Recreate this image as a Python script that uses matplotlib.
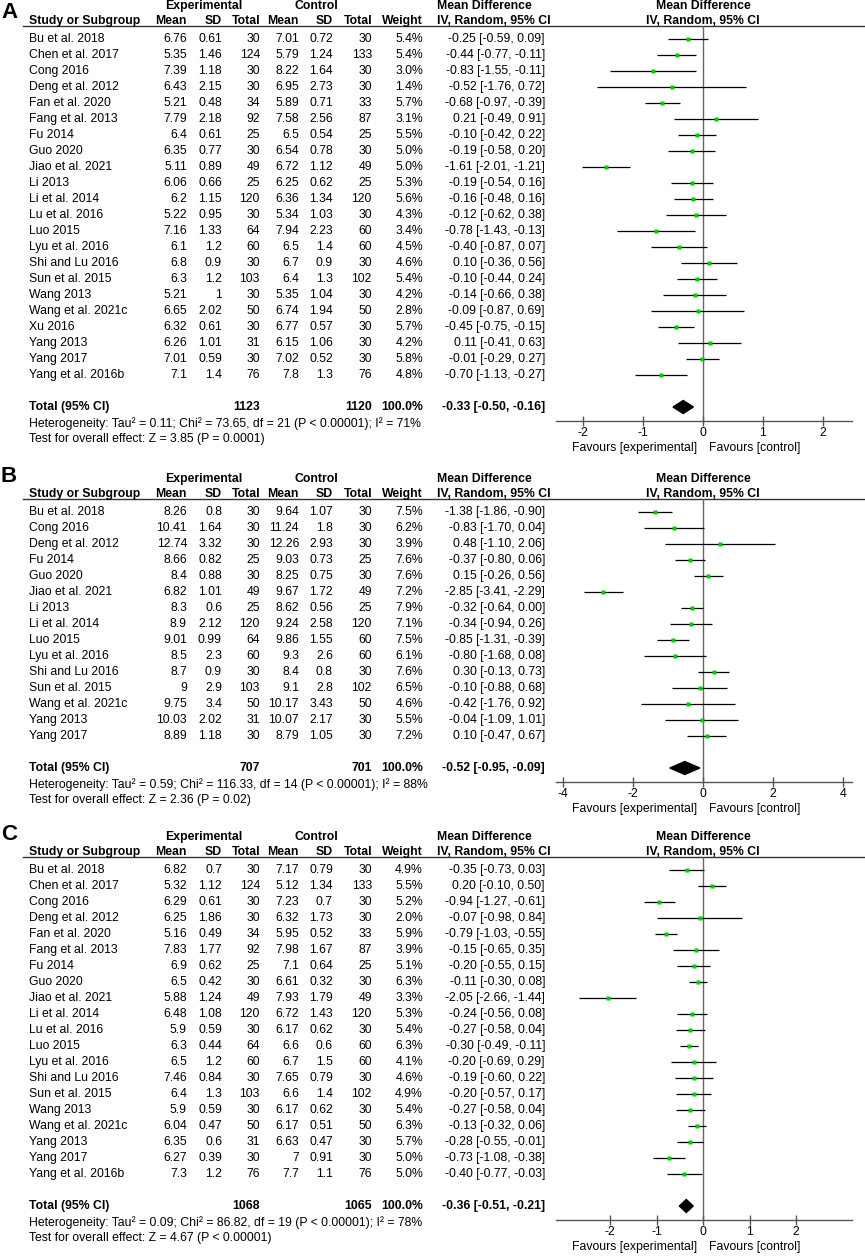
import matplotlib
matplotlib.use("Agg")
import matplotlib.pyplot as plt
from matplotlib.patches import Polygon

plt.rcParams['font.family'] = ['Liberation Sans', 'DejaVu Sans']

W, H = 865, 1256
FS = 8.8

# ---------------- panel A ----------------
names_a = ["Bu et al. 2018", "Chen et al. 2017", "Cong 2016", "Deng et al. 2012", "Fan et al. 2020",
           "Fang et al. 2013", "Fu 2014", "Guo 2020", "Jiao et al. 2021", "Li 2013", "Li et al. 2014",
           "Lu et al. 2016", "Luo 2015", "Lyu et al. 2016", "Shi and Lu 2016", "Sun et al. 2015",
           "Wang 2013", "Wang et al. 2021c", "Xu 2016", "Yang 2013", "Yang 2017", "Yang et al. 2016b"]
exp_mean_a = [6.76, 5.35, 7.39, 6.43, 5.21, 7.79, 6.4, 6.35, 5.11, 6.06, 6.2, 5.22, 7.16, 6.1, 6.8, 6.3,
              5.21, 6.65, 6.32, 6.26, 7.01, 7.1]
exp_sd_a = [0.61, 1.46, 1.18, 2.15, 0.48, 2.18, 0.61, 0.77, 0.89, 0.66, 1.15, 0.95, 1.33, 1.2, 0.9, 1.2,
            1, 2.02, 0.61, 1.01, 0.59, 1.4]
exp_n_a = [30, 124, 30, 30, 34, 92, 25, 30, 49, 25, 120, 30, 64, 60, 30, 103, 30, 50, 30, 31, 30, 76]
ctl_mean_a = [7.01, 5.79, 8.22, 6.95, 5.89, 7.58, 6.5, 6.54, 6.72, 6.25, 6.36, 5.34, 7.94, 6.5, 6.7, 6.4,
              5.35, 6.74, 6.77, 6.15, 7.02, 7.8]
ctl_sd_a = [0.72, 1.24, 1.64, 2.73, 0.71, 2.56, 0.54, 0.78, 1.12, 0.62, 1.34, 1.03, 2.23, 1.4, 0.9, 1.3,
            1.04, 1.94, 0.57, 1.06, 0.52, 1.3]
ctl_n_a = [30, 133, 30, 30, 33, 87, 25, 30, 49, 25, 120, 30, 60, 60, 30, 102, 30, 50, 30, 30, 30, 76]
weight_a = [5.4, 5.4, 3.0, 1.4, 5.7, 3.1, 5.5, 5.0, 5.0, 5.3, 5.6, 4.3, 3.4, 4.5, 4.6, 5.4, 4.2, 2.8, 5.7,
            4.2, 5.8, 4.8]
md_a = [-0.25, -0.44, -0.83, -0.52, -0.68, 0.21, -0.10, -0.19, -1.61, -0.19, -0.16, -0.12, -0.78, -0.40,
        0.10, -0.10, -0.14, -0.09, -0.45, 0.11, -0.01, -0.70]
lo_a = [-0.59, -0.77, -1.55, -1.76, -0.97, -0.49, -0.42, -0.58, -2.01, -0.54, -0.48, -0.62, -1.43, -0.87,
        -0.36, -0.44, -0.66, -0.87, -0.75, -0.41, -0.29, -1.13]
hi_a = [0.09, -0.11, -0.11, 0.72, -0.39, 0.91, 0.22, 0.20, -1.21, 0.16, 0.16, 0.38, -0.13, 0.07, 0.56,
        0.24, 0.38, 0.69, -0.15, 0.63, 0.27, -0.27]
total_a = (1123, 1120, -0.33, -0.50, -0.16)
het_a = "Heterogeneity: Tau² = 0.11; Chi² = 73.65, df = 21 (P < 0.00001); I² = 71%"
test_a = "Test for overall effect: Z = 3.85 (P = 0.0001)"
ticks_a = [-2, -1, 0, 1, 2]

# ---------------- panel B ----------------
names_b = ["Bu et al. 2018", "Cong 2016", "Deng et al. 2012", "Fu 2014", "Guo 2020", "Jiao et al. 2021",
           "Li 2013", "Li et al. 2014", "Luo 2015", "Lyu et al. 2016", "Shi and Lu 2016", "Sun et al. 2015",
           "Wang et al. 2021c", "Yang 2013", "Yang 2017"]
exp_mean_b = [8.26, 10.41, 12.74, 8.66, 8.4, 6.82, 8.3, 8.9, 9.01, 8.5, 8.7, 9, 9.75, 10.03, 8.89]
exp_sd_b = [0.8, 1.64, 3.32, 0.82, 0.88, 1.01, 0.6, 2.12, 0.99, 2.3, 0.9, 2.9, 3.4, 2.02, 1.18]
exp_n_b = [30, 30, 30, 25, 30, 49, 25, 120, 64, 60, 30, 103, 50, 31, 30]
ctl_mean_b = [9.64, 11.24, 12.26, 9.03, 8.25, 9.67, 8.62, 9.24, 9.86, 9.3, 8.4, 9.1, 10.17, 10.07, 8.79]
ctl_sd_b = [1.07, 1.8, 2.93, 0.73, 0.75, 1.72, 0.56, 2.58, 1.55, 2.6, 0.8, 2.8, 3.43, 2.17, 1.05]
ctl_n_b = [30, 30, 30, 25, 30, 49, 25, 120, 60, 60, 30, 102, 50, 30, 30]
weight_b = [7.5, 6.2, 3.9, 7.6, 7.6, 7.2, 7.9, 7.1, 7.5, 6.1, 7.6, 6.5, 4.6, 5.5, 7.2]
md_b = [-1.38, -0.83, 0.48, -0.37, 0.15, -2.85, -0.32, -0.34, -0.85, -0.80, 0.30, -0.10, -0.42, -0.04, 0.10]
lo_b = [-1.86, -1.70, -1.10, -0.80, -0.26, -3.41, -0.64, -0.94, -1.31, -1.68, -0.13, -0.88, -1.76, -1.09, -0.47]
hi_b = [-0.90, 0.04, 2.06, 0.06, 0.56, -2.29, 0.00, 0.26, -0.39, 0.08, 0.73, 0.68, 0.92, 1.01, 0.67]
total_b = (707, 701, -0.52, -0.95, -0.09)
het_b = "Heterogeneity: Tau² = 0.59; Chi² = 116.33, df = 14 (P < 0.00001); I² = 88%"
test_b = "Test for overall effect: Z = 2.36 (P = 0.02)"
ticks_b = [-4, -2, 0, 2, 4]

# ---------------- panel C ----------------
names_c = ["Bu et al. 2018", "Chen et al. 2017", "Cong 2016", "Deng et al. 2012", "Fan et al. 2020",
           "Fang et al. 2013", "Fu 2014", "Guo 2020", "Jiao et al. 2021", "Li et al. 2014", "Lu et al. 2016",
           "Luo 2015", "Lyu et al. 2016", "Shi and Lu 2016", "Sun et al. 2015", "Wang 2013",
           "Wang et al. 2021c", "Yang 2013", "Yang 2017", "Yang et al. 2016b"]
exp_mean_c = [6.82, 5.32, 6.29, 6.25, 5.16, 7.83, 6.9, 6.5, 5.88, 6.48, 5.9, 6.3, 6.5, 7.46, 6.4, 5.9,
              6.04, 6.35, 6.27, 7.3]
exp_sd_c = [0.7, 1.12, 0.61, 1.86, 0.49, 1.77, 0.62, 0.42, 1.24, 1.08, 0.59, 0.44, 1.2, 0.84, 1.3, 0.59,
            0.47, 0.6, 0.39, 1.2]
exp_n_c = [30, 124, 30, 30, 34, 92, 25, 30, 49, 120, 30, 64, 60, 30, 103, 30, 50, 31, 30, 76]
ctl_mean_c = [7.17, 5.12, 7.23, 6.32, 5.95, 7.98, 7.1, 6.61, 7.93, 6.72, 6.17, 6.6, 6.7, 7.65, 6.6, 6.17,
              6.17, 6.63, 7, 7.7]
ctl_sd_c = [0.79, 1.34, 0.7, 1.73, 0.52, 1.67, 0.64, 0.32, 1.79, 1.43, 0.62, 0.6, 1.5, 0.79, 1.4, 0.62,
            0.51, 0.47, 0.91, 1.1]
ctl_n_c = [30, 133, 30, 30, 33, 87, 25, 30, 49, 120, 30, 60, 60, 30, 102, 30, 50, 30, 30, 76]
weight_c = [4.9, 5.5, 5.2, 2.0, 5.9, 3.9, 5.1, 6.3, 3.3, 5.3, 5.4, 6.3, 4.1, 4.6, 4.9, 5.4, 6.3, 5.7, 5.0, 5.0]
md_c = [-0.35, 0.20, -0.94, -0.07, -0.79, -0.15, -0.20, -0.11, -2.05, -0.24, -0.27, -0.30, -0.20, -0.19,
        -0.20, -0.27, -0.13, -0.28, -0.73, -0.40]
lo_c = [-0.73, -0.10, -1.27, -0.98, -1.03, -0.65, -0.55, -0.30, -2.66, -0.56, -0.58, -0.49, -0.69, -0.60,
        -0.57, -0.58, -0.32, -0.55, -1.08, -0.77]
hi_c = [0.03, 0.50, -0.61, 0.84, -0.55, 0.35, 0.15, 0.08, -1.44, 0.08, 0.04, -0.11, 0.29, 0.22, 0.17,
        0.04, 0.06, -0.01, -0.38, -0.03]
total_c = (1068, 1065, -0.36, -0.51, -0.21)
het_c = "Heterogeneity: Tau² = 0.09; Chi² = 86.82, df = 19 (P < 0.00001); I² = 78%"
test_c = "Test for overall effect: Z = 4.67 (P < 0.00001)"
ticks_c = [-2, -1, 0, 1, 2]

# column right edges (pixels)
cols = [187, 222, 260, 299, 333, 372]
x_name = 29
x_weight = 423
x_mdtext = 545
x_md_hdr = 437
fx0, fx1, fzero = 556, 852, 703

fig = plt.figure(figsize=(W / 100, H / 100), dpi=100)
ax = fig.add_axes([0, 0, 1, 1])
ax.set_xlim(0, W)
ax.set_ylim(H, 0)
ax.axis("off")


def fmt(v):
    return f"{v:g}"


def panel(letter, letter_y, y0, scale, names, em, es, en, cm, cs, cn, wt, md, lo, hi, total, het, test, ticks):
    n = len(names)
    ys = [y0 + i * 16 for i in range(n)]
    y_total = ys[-1] + 32
    y_line = y0 - 13
    y_axis = y_total + 14

    ax.text(1, letter_y, letter, fontsize=16, fontweight="bold", va="center", ha="left")

    # headers
    ax.text(204, y0 - 33, "Experimental", fontsize=FS, fontweight="bold", ha="center", va="center")
    ax.text(316, y0 - 33, "Control", fontsize=FS, fontweight="bold", ha="center", va="center")
    ax.text(x_md_hdr, y0 - 33, "Mean Difference", fontsize=FS, fontweight="bold", ha="left", va="center")
    ax.text(fzero, y0 - 33, "Mean Difference", fontsize=FS, fontweight="bold", ha="center", va="center")
    hy = y0 - 18
    ax.text(x_name, hy, "Study or Subgroup", fontsize=FS, fontweight="bold", ha="left", va="center")
    for x, lab in zip(cols, ["Mean", "SD", "Total", "Mean", "SD", "Total"]):
        ax.text(x, hy, lab, fontsize=FS, fontweight="bold", ha="right", va="center")
    ax.text(x_weight, hy, "Weight", fontsize=FS, fontweight="bold", ha="right", va="center")
    ax.text(x_md_hdr, hy, "IV, Random, 95% CI", fontsize=FS, fontweight="bold", ha="left", va="center")
    ax.text(fzero, hy, "IV, Random, 95% CI", fontsize=FS, fontweight="bold", ha="center", va="center")
    ax.plot([23, W], [y_line, y_line], color="#333333", lw=1.0)

    # study rows
    for i in range(n):
        y = ys[i]
        ax.text(x_name, y, names[i], fontsize=FS, ha="left", va="center")
        vals = [fmt(em[i]), fmt(es[i]), str(en[i]), fmt(cm[i]), fmt(cs[i]), str(cn[i])]
        for x, v in zip(cols, vals):
            ax.text(x, y, v, fontsize=FS, ha="right", va="center")
        ax.text(x_weight, y, f"{wt[i]:.1f}%", fontsize=FS, ha="right", va="center")
        ax.text(x_mdtext, y, f"{md[i]:.2f} [{lo[i]:.2f}, {hi[i]:.2f}]", fontsize=FS, ha="right", va="center")

    # total row
    ax.text(x_name, y_total, "Total (95% CI)", fontsize=FS, fontweight="bold", ha="left", va="center")
    ax.text(cols[2], y_total, str(total[0]), fontsize=FS, fontweight="bold", ha="right", va="center")
    ax.text(cols[5], y_total, str(total[1]), fontsize=FS, fontweight="bold", ha="right", va="center")
    ax.text(x_weight, y_total, "100.0%", fontsize=FS, fontweight="bold", ha="right", va="center")
    ax.text(x_mdtext, y_total, f"{total[2]:.2f} [{total[3]:.2f}, {total[4]:.2f}]", fontsize=FS,
            fontweight="bold", ha="right", va="center")
    ax.text(x_name, y_total + 17, het, fontsize=FS, ha="left", va="center")
    ax.text(x_name, y_total + 32, test, fontsize=FS, ha="left", va="center")
    ax.text(fzero - 6, y_axis + 27, "Favours [experimental]", fontsize=FS, ha="right", va="center")
    ax.text(fzero + 6, y_axis + 27, "Favours [control]", fontsize=FS, ha="left", va="center")

    # forest axes
    fa = fig.add_axes([fx0 / W, 1 - y_axis / H, (fx1 - fx0) / W, (y_axis - y_line) / H])
    fa.set_xlim((fx0 - fzero) / scale, (fx1 - fzero) / scale)
    fa.set_ylim(y_axis, y_line)
    fa.patch.set_alpha(0)
    for s in ["top", "left", "right"]:
        fa.spines[s].set_visible(False)
    fa.spines["bottom"].set_color("#555555")
    fa.spines["bottom"].set_linewidth(1.0)
    fa.set_yticks([])
    fa.set_xticks(ticks)
    fa.set_xticklabels([str(t) for t in ticks])
    fa.tick_params(axis="x", direction="inout", length=7, width=1, color="#555555", labelsize=FS, pad=1)
    fa.axvline(0, color="#666666", lw=1.0, zorder=1)
    fa.hlines(ys, lo, hi, color="black", lw=0.9, zorder=2)
    fa.plot(md, ys, "s", color="#00cc00", ms=2.6, mec="none", zorder=3)
    dh = 6.5
    fa.add_patch(Polygon([(total[3], y_total), (total[2], y_total - dh), (total[4], y_total),
                          (total[2], y_total + dh)], closed=True, color="black", zorder=3))


panel("A", 13, 39, 60.0, names_a, exp_mean_a, exp_sd_a, exp_n_a, ctl_mean_a, ctl_sd_a, ctl_n_a,
      weight_a, md_a, lo_a, hi_a, total_a, het_a, test_a, ticks_a)
panel("B", 476, 512, 35.0, names_b, exp_mean_b, exp_sd_b, exp_n_b, ctl_mean_b, ctl_sd_b, ctl_n_b,
      weight_b, md_b, lo_b, hi_b, total_b, het_b, test_b, ticks_b)
panel("C", 835, 870, 46.5, names_c, exp_mean_c, exp_sd_c, exp_n_c, ctl_mean_c, ctl_sd_c, ctl_n_c,
      weight_c, md_c, lo_c, hi_c, total_c, het_c, test_c, ticks_c)

fig.savefig("out.png", dpi=100)
